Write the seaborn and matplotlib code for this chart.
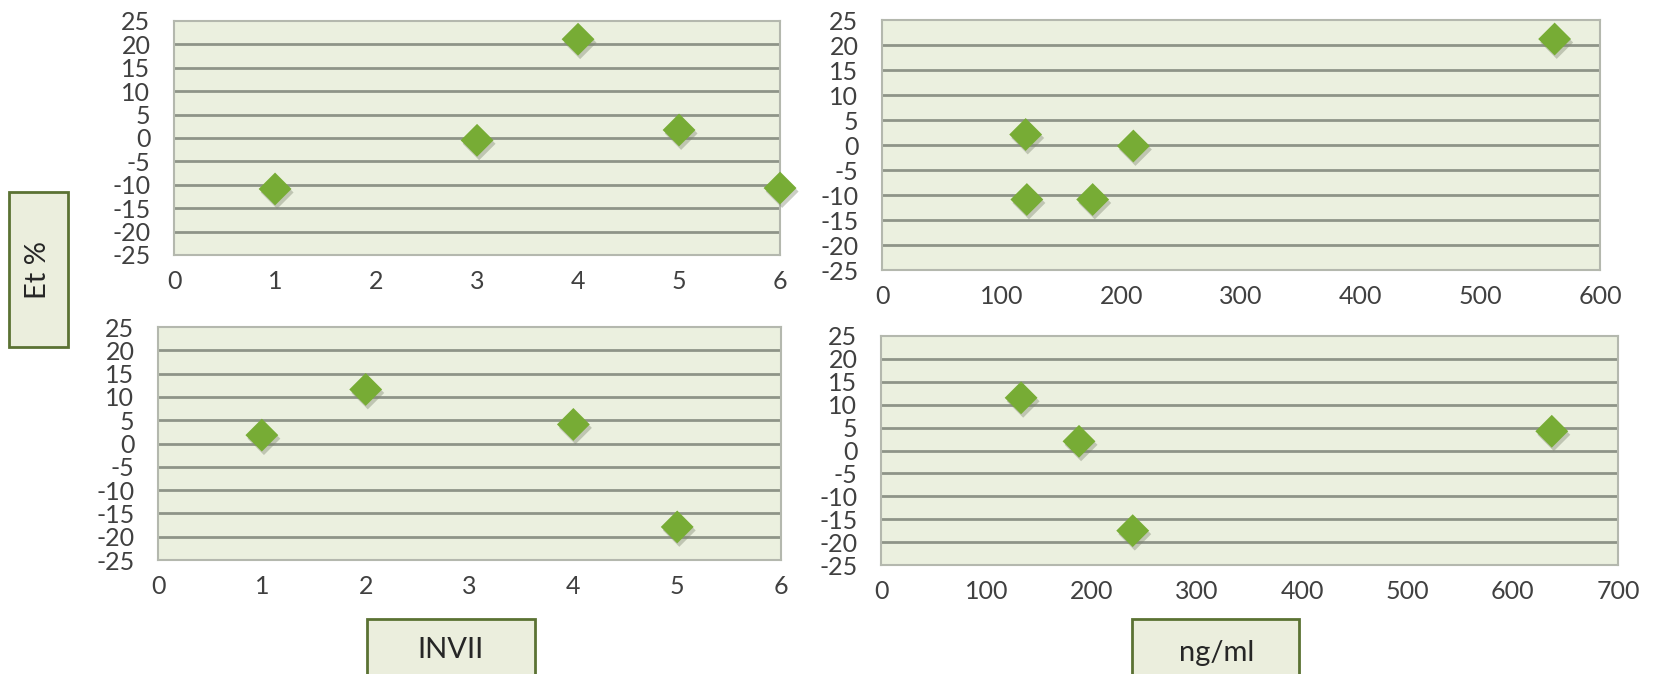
"""Et % against INVII and ng/ml, four small scatter panels."""
import matplotlib
matplotlib.use('Agg')
import matplotlib.pyplot as plt
import matplotlib.patheffects as pe
from matplotlib.patches import Rectangle
import pandas as pd
import seaborn as sns

# top row: INVII and ng/ml against Et %
invii_top = [1, 3, 4, 5, 6]
et_invii_top = [-10.9, -0.5, 21.1, 1.7, -10.7]
ng_top = [120, 121, 176, 210, 562]
et_ng_top = [2.1, -10.9, -10.9, -0.2, 21.2]

# bottom row
invii_bottom = [1, 2, 4, 5]
et_invii_bottom = [1.8, 11.6, 4.1, -17.9]
ng_bottom = [133, 188, 239, 637]
et_ng_bottom = [11.5, 2.0, -17.5, 4.2]

y_ticks = list(range(-25, 30, 5))

sns.set_style('white', {'axes.facecolor': '#ebf0df'})
plt.rcParams['font.family'] = ['Lato', 'DejaVu Sans']
plt.rcParams['axes.unicode_minus'] = False  # plain hyphen like the original

fig = plt.figure(figsize=(16.53, 6.74), dpi=100)

# [left, bottom, width, height], x data, y data, x max, x step
panels = [
    ([0.1053, 0.6217, 0.3666, 0.3472], invii_top, et_invii_top, 6, 1),
    ([0.5336, 0.5994, 0.4344, 0.3709], ng_top, et_ng_top, 600, 100),
    ([0.0956, 0.1691, 0.3769, 0.3457], invii_bottom, et_invii_bottom, 6, 1),
    ([0.5330, 0.1617, 0.4459, 0.3398], ng_bottom, et_ng_bottom, 700, 100),
]

for rect, xs, ys, xmax, step in panels:
    ax = fig.add_axes(rect)
    df = pd.DataFrame({'x': xs, 'y': ys})
    for line_y in y_ticks[1:-1]:
        ax.axhline(line_y, color='#8e9488', lw=2, zorder=1)
    pts = sns.scatterplot(data=df, x='x', y='y', ax=ax, marker='D', s=280,
                          color='#77ac35', edgecolor='none', zorder=3)
    dots = pts.collections[0]
    dots.set_clip_on(False)  # the point at x=6 sits on the frame edge
    dots.set_path_effects(
        [pe.SimplePatchShadow(offset=(1.5, -2.5), shadow_rgbFace='#7d8570',
                              alpha=0.4), pe.Normal()])
    ax.set_xlim(0, xmax)
    ax.set_ylim(-25, 25)
    ax.set_xticks(range(0, xmax + 1, step))
    ax.set_yticks(y_ticks)
    ax.set(xlabel='', ylabel='')
    ax.tick_params(length=0, labelsize=18, labelcolor='#404040')
    ax.tick_params(axis='x', pad=11)
    ax.tick_params(axis='y', pad=17)
    for spine in ax.spines.values():
        spine.set_color('#b4b8ae')
        spine.set_linewidth(1.5)

# the three boxed axis titles
box_style = dict(facecolor='#ebeedd', edgecolor='#5b7233', lw=2,
                 transform=fig.transFigure, zorder=5)
fig.patches.append(Rectangle((0.0054, 0.4852), 0.0357, 0.230, **box_style))
fig.patches.append(Rectangle((0.2220, -0.02), 0.1016, 0.1016, **box_style))
fig.patches.append(Rectangle((0.6848, -0.02), 0.1010, 0.1016, **box_style))

fig.text(0.0230, 0.5994, 'Et %', rotation=90, ha='center', va='center',
         fontsize=21, zorder=6)
fig.text(0.2728, 0.0356, 'INVII', ha='center', va='center', fontsize=21,
         zorder=6)
fig.text(0.7362, 0.0312, 'ng/ml', ha='center', va='center', fontsize=21,
         zorder=6)

fig.savefig('out.png', dpi=100)
